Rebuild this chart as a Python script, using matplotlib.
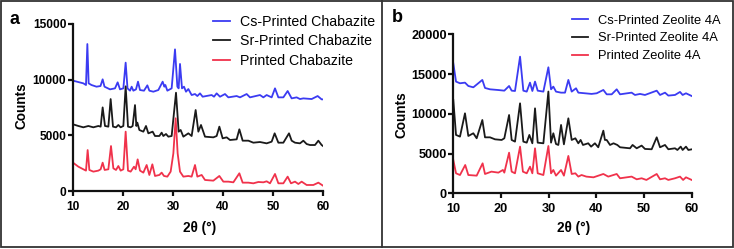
import matplotlib
matplotlib.use("Agg")
import matplotlib.pyplot as plt
from matplotlib.lines import Line2D
from matplotlib.patches import Rectangle

# ---------------- data: panel a (Chabazite) ----------------
cs_chab_x = [10.0, 12.07, 12.6, 12.87, 13.13, 13.7, 14.7, 15.5, 15.93, 16.3, 17.4, 18.4, 18.93, 19.4,
             20.07, 20.53, 20.9, 21.4, 21.73, 22.07, 22.6, 23.0, 23.4, 24.2, 24.87, 25.27, 26.07, 27.07,
             27.93, 28.27, 28.47, 28.87, 29.73, 30.4, 30.87, 31.13, 31.4, 31.8, 32.2, 32.6, 33.07, 33.73,
             34.4, 34.87, 35.4, 35.93, 37.73, 38.2, 38.73, 39.4, 40.4, 41.07, 42.73, 43.4, 44.73, 45.4,
             47.4, 48.07, 48.73, 49.73, 50.4, 51.07, 52.07, 52.93, 53.73, 54.73, 55.4, 56.07, 57.73,
             58.93, 59.73, 60.0]
cs_chab_y = [9910, 9670, 9520, 13200, 9670, 9520, 9370, 9430, 10030, 9370, 9130, 9220, 9760, 9130,
             9220, 11530, 9220, 9010, 9370, 9010, 9130, 9820, 9070, 9010, 9490, 9010, 8920, 9070,
             9820, 9370, 9520, 9010, 9220, 12720, 9370, 9220, 11410, 9220, 9370, 8920, 9160, 8620,
             8710, 8530, 8770, 8470, 8620, 8470, 8770, 8470, 8710, 8410, 8530, 8410, 8710, 8410,
             8620, 8410, 8620, 8410, 9220, 8410, 8410, 8980, 8320, 8410, 8260, 8320, 8260,
             8530, 8230, 8230]

sr_chab_x = [10.0, 11.07, 12.07, 13.07, 14.07, 15.07, 15.53, 15.93, 16.4, 17.07, 17.53, 18.0, 18.6,
             19.07, 19.53, 20.07, 20.53, 21.0, 21.53, 21.93, 22.4, 22.67, 22.87, 23.27, 24.07, 24.6,
             25.07, 25.93, 26.4, 27.27, 27.73, 28.07, 28.6, 29.07, 29.73, 30.6, 31.13, 31.53, 32.07,
             33.07, 33.73, 34.53, 35.07, 35.6, 36.4, 38.07, 38.73, 39.27, 39.93, 40.73, 41.4, 42.73,
             43.27, 43.93, 45.07, 46.07, 47.4, 48.73, 49.73, 50.33, 51.07, 52.07, 53.2, 53.73, 54.4,
             55.4, 56.07, 56.73, 57.4, 58.4, 59.07, 59.73, 60.0]
sr_chab_y = [5990, 5840, 5720, 5840, 5720, 5840, 5780, 7510, 5840, 5780, 8260, 5780, 5720,
             5930, 5720, 5840, 9400, 5780, 5720, 5840, 7720, 5840, 6140, 5480, 5330, 5840,
             5180, 5330, 4940, 4940, 5240, 4940, 5120, 4880, 4940, 8830, 5330, 5480, 4880,
             5180, 4940, 7275, 5330, 5930, 4880, 4820, 4940, 5780, 4730, 4820, 4580, 4640,
             5540, 4520, 4520, 4340, 4400, 4280, 4430, 5180, 4340, 4340, 5180, 4520, 4340,
             4280, 4520, 4220, 4130, 4130, 4520, 4130, 4040]

pr_chab_x = [10.0, 11.07, 12.07, 12.6, 12.93, 13.27, 14.07, 15.07, 15.53, 15.93, 16.33, 17.07, 17.6,
             18.07, 18.6, 19.07, 19.53, 20.07, 20.53, 21.0, 21.53, 22.2, 22.53, 22.93, 23.4, 24.07,
             24.73, 25.27, 25.87, 26.4, 27.27, 27.73, 28.2, 28.87, 29.53, 30.07, 30.53, 30.93, 31.4,
             32.07, 33.07, 33.73, 34.4, 34.87, 35.73, 36.4, 38.07, 39.27, 40.07, 41.07, 42.07, 43.27,
             43.93, 45.07, 46.07, 47.07, 48.07, 48.73, 49.4, 50.4, 51.07, 52.07, 52.93, 53.6, 54.4,
             55.07, 55.73, 56.73, 58.07, 59.07, 60.0]
pr_chab_y = [2545, 2185, 1950, 1830, 3680, 1890, 1740, 1830, 1950, 2545, 1890, 1950, 4040,
             2035, 1890, 2245, 1830, 1950, 5330, 1830, 1740, 2185, 1950, 2840, 1830, 1650,
             2335, 1440, 2395, 1350, 1440, 1650, 1350, 1290, 1740, 3380, 6530, 3380, 1740,
             1290, 1350, 1290, 2335, 1290, 1440, 990, 930, 1350, 840, 840, 780, 1590,
             750, 750, 690, 810, 780, 870, 690, 1530, 690, 690, 1290, 690, 840,
             630, 840, 540, 540, 750, 480]

# ---------------- data: panel b (Zeolite 4A) ----------------
cs_z4a_x = [10.0, 10.57, 11.4, 12.45, 13.15, 14.2, 16.09, 16.65, 17.7, 19.45, 20.7, 21.7, 22.24, 22.94,
            24.0, 24.69, 25.4, 26.09, 26.58, 27.14, 27.7, 28.89, 29.94, 30.5, 30.98, 31.54, 32.6,
            33.43, 34.13, 34.83, 35.74, 36.22, 37.62, 39.0, 40.07, 41.47, 42.17, 43.22, 44.27, 44.97,
            47.4, 48.1, 49.16, 50.2, 52.66, 53.36, 54.4, 55.1, 56.5, 57.55, 58.1, 58.8, 60.0]
cs_z4a_y = [16350, 14050, 13840, 13920, 13500, 13330, 14260, 13250, 13080, 12990, 12910, 13500, 12910, 12870,
            17190, 12910, 12790, 13920, 12870, 14050, 12910, 12790, 15850, 13080, 13420, 12790, 12660,
            12660, 14260, 12790, 13210, 12660, 12580, 12500, 12580, 13000, 12450, 12450, 13080, 12450,
            12660, 12370, 12500, 12370, 12910, 12370, 12660, 12290, 12370, 12750, 12370, 12580, 12240]

sr_z4a_x = [10.0, 10.57, 11.4, 12.45, 13.15, 14.2, 14.9, 16.09, 16.65, 17.7, 18.75, 20.14, 20.7, 21.7,
            22.24, 22.94, 24.0, 24.69, 25.4, 25.95, 26.58, 27.14, 27.7, 28.89, 29.94, 30.5, 30.98,
            31.54, 32.03, 32.6, 33.2, 34.13, 34.83, 35.6, 36.22, 36.7, 37.2, 38.3, 38.9, 39.7, 40.4,
            41.47, 41.8, 42.17, 42.87, 43.6, 44.4, 44.97, 47.06, 47.6, 48.46, 49.5, 50.2, 51.6, 52.66,
            53.36, 54.4, 55.1, 56.5, 57.0, 57.7, 58.1, 58.8, 59.3, 60.0]
sr_z4a_y = [11740, 7340, 7130, 10060, 7210, 7550, 6920, 9220, 7040, 7040, 6790, 6710, 6920, 9850,
            6710, 6500, 11320, 6500, 6370, 7340, 6290, 10690, 6370, 6290, 12800, 6370, 7550,
            6200, 6080, 8600, 6160, 9430, 6710, 6920, 6290, 6710, 6080, 6290, 5870, 6290, 5790,
            7880, 6710, 6710, 6080, 6290, 6080, 5790, 5660, 6080, 5660, 6000, 5580, 5540, 7040,
            5790, 6080, 5540, 5660, 5450, 5870, 5450, 5870, 5450, 5530]

pr_z4a_x = [10.0, 10.57, 11.4, 12.5, 13.15, 14.9, 16.15, 16.65, 18.0, 19.45, 20.4, 20.7, 21.7, 22.24,
            22.94, 24.0, 24.6, 25.4, 26.09, 26.58, 27.14, 27.7, 28.89, 29.94, 30.5, 30.98, 31.54,
            32.6, 33.2, 34.13, 34.83, 35.6, 36.22, 36.9, 37.9, 39.4, 41.47, 42.5, 44.27, 44.97, 47.4,
            48.46, 49.5, 50.5, 52.66, 53.36, 54.4, 55.1, 56.5, 57.55, 58.2, 58.8, 60.0]
pr_z4a_y = [4190, 2515, 2300, 3560, 2300, 2220, 3770, 2430, 2725, 2600, 2935, 2600, 5110, 2725,
            2515, 5870, 2725, 2515, 3350, 2515, 5660, 2515, 2300, 5950, 2515, 2935, 2220,
            2935, 2220, 4700, 2430, 2515, 2100, 2300, 2100, 2010, 2430, 2100, 2430, 1890, 2100,
            1760, 1890, 1680, 2430, 1760, 1890, 1680, 1890, 2100, 1680, 2010, 1680]

labels_a = ["Cs-Printed Chabazite", "Sr-Printed Chabazite", "Printed Chabazite"]
labels_b = ["Cs-Printed Zeolite 4A", "Sr-Printed Zeolite 4A", "Printed Zeolite 4A"]
xticks = [10, 20, 30, 40, 50, 60]
yticks_a = [0, 5000, 10000, 15000]
yticks_b = [0, 5000, 10000, 15000, 20000]

BLUE = "#3b3bf2"
BLACK = "#1a1a1a"
RED = "#f0324b"
FONT = "Liberation Sans"

W, H = 734, 249
fig = plt.figure(figsize=(W / 100, H / 100), dpi=100)
plt.rcParams["font.family"] = [FONT, "DejaVu Sans"]


def px_axes(left, top, right, bottom):
    return fig.add_axes([left / W, 1 - bottom / H, (right - left) / W, (bottom - top) / H])


ax_a = px_axes(73, 24, 323, 191)
ax_b = px_axes(453.3, 34.3, 691.7, 193.3)

series_a = [(cs_chab_x, cs_chab_y, BLUE), (sr_chab_x, sr_chab_y, BLACK), (pr_chab_x, pr_chab_y, RED)]
series_b = [(cs_z4a_x, cs_z4a_y, BLUE), (sr_z4a_x, sr_z4a_y, BLACK), (pr_z4a_x, pr_z4a_y, RED)]

for ax, series, yticks, ytop, tsize in [(ax_a, series_a, yticks_a, 15000, 8.6),
                                        (ax_b, series_b, yticks_b, 20000, 9.2)]:
    for xs, ys, c in series:
        ax.plot(xs, ys, color=c, lw=1.3, solid_joinstyle="round")
    ax.set_xlim(10, 60)
    ax.set_ylim(0, ytop)
    ax.set_xticks(xticks)
    ax.set_yticks(yticks)
    for s in ("top", "right"):
        ax.spines[s].set_visible(False)
    for s in ("left", "bottom"):
        ax.spines[s].set_linewidth(1.6)
        ax.spines[s].set_color("#111111")
    ax.tick_params(axis="both", direction="out", length=3.8, width=1.6, color="#111111",
                   labelsize=tsize)
    ax.tick_params(axis="y", pad=1.0)
    ax.tick_params(axis="x", pad=3.2)
    for lab in ax.get_xticklabels() + ax.get_yticklabels():
        lab.set_fontweight("bold")
        lab.set_family(FONT)
    ax.patch.set_alpha(0)

# axis titles
fig.text(22 / W, 1 - 105.5 / H, "Counts", rotation=90, ha="center", va="center",
         fontsize=9.8, fontweight="bold", family=FONT)
fig.text(402 / W, 1 - 115 / H, "Counts", rotation=90, ha="center", va="center",
         fontsize=9.8, fontweight="bold", family=FONT)
fig.text(199.5 / W, 1 - 228 / H, "2θ (°)", ha="center", va="center",
         fontsize=9.8, fontweight="bold", family=FONT)
fig.text(573.5 / W, 1 - 228 / H, "2θ (°)", ha="center", va="center",
         fontsize=9.8, fontweight="bold", family=FONT)

# panel letters
fig.text(15 / W, 1 - 19 / H, "a", ha="center", va="center", fontsize=13, fontweight="bold", family=FONT)
fig.text(397 / W, 1 - 18 / H, "b", ha="center", va="center", fontsize=13, fontweight="bold", family=FONT)

# legends
handles = [Line2D([], [], color=c, lw=1.3) for c in (BLUE, BLACK, RED)]
fig.legend(handles, labels_a, loc="upper left", bbox_to_anchor=(213 / W, 1 - 14.5 / H),
           frameon=False, borderpad=0, borderaxespad=0, handlelength=1.2, handletextpad=0.7,
           labelspacing=0.42, prop={"family": FONT, "size": 10.2})
fig.legend(handles, labels_b, loc="upper left", bbox_to_anchor=(572 / W, 1 - 14.5 / H),
           frameon=False, borderpad=0, borderaxespad=0, handlelength=1.25, handletextpad=0.78,
           labelspacing=0.45, prop={"family": FONT, "size": 9.3})

# outer frame and separator
fig.patches.append(Rectangle((1 / W, 2 / H), (W - 2) / W, (H - 3) / H, transform=fig.transFigure,
                             fill=False, edgecolor="#333333", lw=1.3))
fig.lines.append(Line2D([382 / W, 382 / W], [2 / H, 1 - 1 / H], transform=fig.transFigure,
                        color="#333333", lw=1.3))

fig.savefig("out.png", dpi=100)
